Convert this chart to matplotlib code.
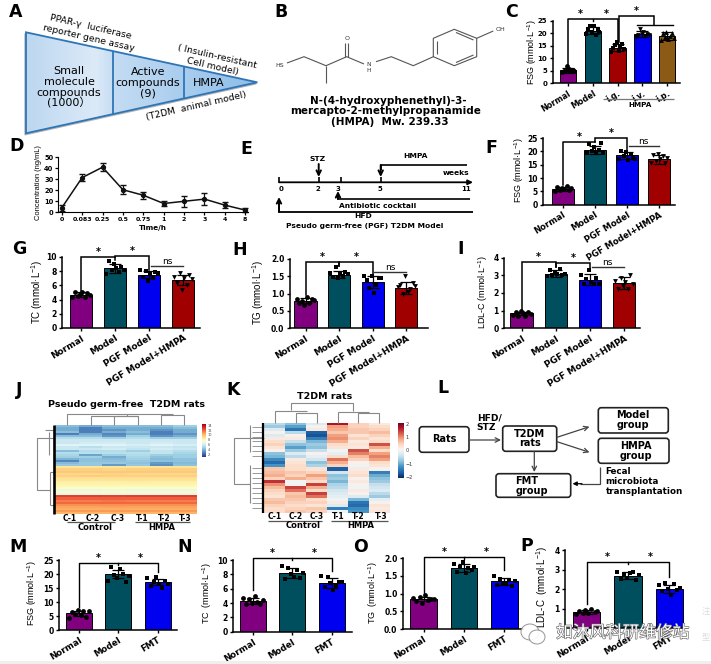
import numpy as np
import matplotlib
matplotlib.use('Agg')
import matplotlib.pyplot as plt
import matplotlib.patheffects as pe
from matplotlib.colors import LinearSegmentedColormap
from matplotlib.patches import Polygon, FancyBboxPatch, Ellipse, Rectangle

W, H = 711, 664
plt.rcParams['font.family'] = ['DejaVu Sans']
plt.rcParams['mathtext.default'] = 'regular'

PURPLE = '#800080'
TEAL = '#004f5f'
RED = '#a00000'
BLUE = '#0000f0'
BROWN = '#8b5a14'

four = ['Normal', 'Model', 'PGF Model', 'PGF Model+HMPA']
three = ['Normal', 'Model', 'FMT']

# bar panels
c_names = ['Normal', 'Model', 'i.g.', 'i.v.', 'i.p.']
c_means = [5.2, 21.0, 14.2, 19.5, 18.8]
c_sd = [0.9, 1.3, 1.5, 1.2, 1.5]
c_pts = [[4.6, 5.0, 5.4, 6.9, 5.6, 4.9, 5.2, 5.0],
         [19.6, 21.5, 22.8, 20.4, 23.0, 19.2, 21.8, 20.6],
         [12.6, 14.0, 15.2, 16.5, 13.0, 14.4, 15.6, 13.6],
         [18.6, 19.2, 21.6, 19.8, 20.4, 18.9, 19.5, 19.4],
         [17.4, 20.2, 18.5, 20.6, 17.6, 19.0, 20.0, 18.2]]

f_means = [6.0, 20.4, 18.5, 17.0]
f_sd = [0.8, 1.5, 1.3, 1.6]
f_pts = [[5.2, 6.8, 5.6, 6.4, 5.8, 6.9, 5.4, 6.2],
         [19.2, 22.8, 20.0, 21.8, 19.6, 20.4, 23.2, 19.4],
         [17.0, 20.0, 18.2, 19.6, 16.8, 19.0, 18.0, 17.2],
         [15.6, 18.8, 16.4, 19.0, 17.0, 18.2, 15.8, 17.6]]

g_means = [4.7, 8.4, 7.5, 6.8]
g_sd = [0.3, 0.6, 0.5, 0.7]
g_pts = [[4.4, 5.0, 4.5, 4.8, 5.1, 4.4, 4.9, 4.6],
         [7.6, 9.4, 8.1, 9.0, 8.4, 7.9, 8.6, 8.2],
         [8.1, 7.2, 8.0, 6.6, 7.6, 7.0, 7.9, 7.7],
         [7.2, 6.4, 7.8, 5.4, 7.0, 6.0, 7.4, 6.9]]

h_means = [0.80, 1.55, 1.33, 1.17]
h_sd = [0.08, 0.10, 0.17, 0.17]
h_pts = [[0.86, 0.72, 0.80, 0.68, 0.90, 0.74, 0.86, 0.82],
         [1.60, 1.48, 1.76, 1.44, 1.56, 1.50, 1.62, 1.58],
         [1.52, 1.40, 1.16, 1.50, 1.02, 1.26, 1.44, 1.46],
         [1.20, 1.26, 0.98, 1.50, 1.04, 1.14, 1.30, 1.22]]

i_means = [0.85, 3.10, 2.75, 2.55]
i_sd = [0.10, 0.20, 0.30, 0.35]
i_pts = [[0.78, 0.92, 0.72, 1.00, 0.84, 0.70, 0.90, 0.82],
         [2.95, 3.30, 3.00, 3.15, 3.05, 3.35, 3.00, 3.10],
         [3.00, 2.50, 2.80, 3.30, 2.60, 2.50, 2.85, 2.50],
         [2.70, 2.25, 2.85, 2.40, 2.60, 2.25, 3.00, 2.50]]

m_means = [5.9, 20.0, 17.1]
m_sd = [1.0, 1.6, 1.2]
m_pts = [[4.4, 6.6, 5.6, 7.3, 5.2, 6.8, 4.8, 6.7],
         [17.4, 22.6, 19.6, 18.4, 21.8, 20.0, 17.0, 19.2],
         [18.4, 15.8, 17.2, 18.8, 16.4, 15.0, 17.6, 16.6]]

n_means = [4.3, 8.2, 6.8]
n_sd = [0.4, 0.7, 0.7]
n_pts = [[4.7, 3.8, 4.5, 4.0, 5.0, 4.2, 3.9, 4.4],
         [9.1, 7.4, 8.9, 8.0, 7.6, 8.6, 7.5, 8.2],
         [7.7, 6.2, 7.6, 6.8, 5.8, 6.4, 7.0, 6.9]]

o_means = [0.85, 1.72, 1.35]
o_sd = [0.07, 0.12, 0.10]
o_pts = [[0.88, 0.78, 0.92, 0.74, 0.95, 0.82, 0.84, 0.86],
         [1.84, 1.62, 1.76, 1.88, 1.58, 1.72, 1.66, 1.74],
         [1.50, 1.24, 1.42, 1.30, 1.28, 1.38, 1.22, 1.36]]

p_means = [0.82, 2.68, 2.00]
p_sd = [0.10, 0.18, 0.22]
p_pts = [[0.72, 0.88, 0.80, 0.94, 0.78, 1.00, 0.82, 0.86],
         [2.85, 2.50, 2.75, 2.55, 2.80, 2.90, 2.48, 2.70],
         [2.20, 1.90, 2.30, 2.00, 1.70, 2.25, 1.95, 2.05]]

# pharmacokinetics
d_times = ['0', '0.083', '0.25', '0.5', '0.75', '1', '2', '3', '4', '8']
d_conc = [4, 31.5, 41, 20.5, 15.5, 8, 10, 12, 6.5, 2]
d_err = [2.5, 3.5, 3.5, 4, 3, 2, 5, 5.5, 3, 2]

# heatmaps
samples = ['C-1', 'C-2', 'C-3', 'T-1', 'T-2', 'T-3']
j_cells = [
    [4.5, 4.0, 4.5, 4.5, 4.5, 5.0], [4.0, 3.0, 4.0, 4.0, 4.0, 4.5],
    [4.0, 3.0, 3.5, 4.0, 3.5, 4.0], [4.5, 3.0, 4.0, 4.5, 3.0, 4.0],
    [3.0, 4.0, 3.2, 4.0, 3.0, 3.5], [4.5, 4.5, 3.5, 5.0, 3.5, 4.0],
    [5.5, 5.5, 5.0, 5.5, 5.0, 5.0], [6.0, 6.0, 6.0, 6.0, 6.0, 6.0],
    [6.0, 6.2, 6.2, 6.0, 6.2, 6.0], [6.5, 6.5, 6.5, 6.3, 6.5, 6.3],
    [6.0, 5.6, 6.0, 6.0, 6.0, 5.8], [6.0, 6.0, 6.2, 5.8, 6.2, 6.0],
    [4.5, 5.5, 5.5, 5.0, 5.8, 5.5], [5.5, 5.6, 5.6, 5.6, 5.8, 5.2],
    [5.2, 3.8, 5.0, 5.4, 5.0, 5.0], [5.0, 5.0, 4.0, 5.2, 4.6, 5.0],
    [4.2, 4.6, 4.4, 5.0, 4.4, 4.6], [3.2, 4.6, 4.6, 4.8, 4.6, 4.6],
    [4.4, 4.8, 4.8, 4.6, 3.6, 4.4], [4.8, 4.8, 3.6, 4.8, 3.4, 4.6],
    [8.8, 8.8, 8.8, 8.8, 8.8, 8.8], [9.4, 9.4, 9.3, 9.4, 9.4, 9.4],
    [9.6, 9.6, 9.6, 9.6, 9.6, 9.6], [9.2, 9.2, 9.3, 9.2, 9.2, 9.2],
    [9.4, 9.5, 9.4, 9.4, 9.4, 9.4], [9.0, 9.0, 9.0, 9.0, 9.0, 9.0],
    [8.8, 8.8, 8.8, 8.8, 8.8, 8.8], [8.4, 8.4, 8.4, 8.5, 8.4, 8.4],
    [8.2, 8.2, 8.2, 8.2, 8.2, 8.2], [8.0, 8.0, 8.0, 8.0, 8.0, 8.0],
    [7.6, 7.6, 7.6, 7.6, 7.6, 7.6], [7.0, 7.0, 7.2, 7.0, 7.0, 7.0],
    [7.4, 7.4, 7.4, 7.4, 7.4, 7.4], [7.0, 7.0, 7.0, 7.0, 7.0, 7.0],
    [12.4, 12.4, 12.3, 12.4, 12.4, 12.4], [11.8, 11.8, 11.8, 11.8, 11.8, 11.8],
    [11.2, 11.2, 11.3, 11.2, 11.2, 11.2], [11.6, 11.6, 11.6, 11.6, 11.6, 11.6],
    [10.8, 10.8, 10.8, 10.8, 10.8, 10.8], [10.4, 10.4, 10.5, 10.4, 10.4, 10.4],
    [10.2, 10.2, 10.2, 10.2, 10.2, 10.2], [10.6, 10.6, 10.6, 10.6, 10.6, 10.6],
    [10.0, 10.0, 10.0, 10.0, 10.0, 10.0],
]
k_cells = [
    [-0.6, -0.9, -0.3, 1.8, 0.5, 0.2], [-0.8, -1.2, 0.1, 0.9, 0.5, 0.4],
    [-0.3, -1.6, 0.2, 0.8, 0.6, 0.5], [0.1, -0.6, -1.8, 0.6, 0.6, 0.7],
    [-0.3, 0.1, -1.9, 0.9, 0.3, 0.5], [0.2, 0.2, -1.5, 1.0, 0.5, 0.3],
    [0.4, -0.5, -1.0, 0.8, 0.2, 0.4], [0.5, -0.9, -0.8, 0.4, 0.3, 1.4],
    [0.3, -1.2, -0.9, 0.3, 0.2, 0.8], [0.1, -0.8, -0.5, -0.1, 1.4, 0.4],
    [-0.9, -0.3, 0.1, -0.2, 1.1, 0.9], [-1.0, -0.6, -0.2, 0.4, 0.7, 1.1],
    [-1.4, 0.2, -0.4, 1.2, 0.5, 0.9], [-1.7, 0.3, -0.9, 0.8, 0.1, 0.4],
    [-1.3, 0.4, -0.7, 0.5, -0.1, 0.3], [0.6, 0.4, 0.3, -1.8, 0.2, 0.1],
    [0.7, 0.6, 0.5, -0.4, 0.3, -1.5], [0.8, 0.5, 0.9, -0.9, 0.4, -1.1],
    [0.5, 0.8, 0.6, -0.8, 0.1, -0.9], [1.6, -0.1, 0.4, -1.0, 0.2, -0.8],
    [1.0, 0.1, 1.5, -0.7, 0.1, -0.5], [0.7, 1.5, 0.8, -0.6, -0.1, -0.4],
    [0.5, 1.2, 0.4, -0.4, 0.2, -0.3], [0.4, 0.6, 1.5, -0.3, 0.1, -0.6],
    [0.3, 0.7, 1.2, -0.2, -0.3, -0.8], [0.6, 0.6, 0.4, -0.1, -1.0, -0.2],
    [0.7, 0.5, 0.5, 0.2, -1.6, 0.1], [0.5, 0.4, 0.3, -0.3, -1.7, 0.3],
    [0.4, 0.5, 0.6, -1.5, -1.4, 0.2], [0.4, 0.6, 0.5, -0.1, -1.3, 0.3],
]

fig = plt.figure(figsize=(W / 100, H / 100), dpi=100)
fig.patch.set_facecolor('white')


def pix_axes(l, r, top, base):
    return fig.add_axes([l / W, 1 - base / H, (r - l) / W, (base - top) / H])


ov = fig.add_axes([0, 0, 1, 1], zorder=5)
ov.patch.set_alpha(0)
ov.axis('off')


def txt(x, y, s, size=6.5, bold=True, rot=0, color='black', ha='center', **kw):
    return ov.text(x, y, s, fontsize=size, fontweight='bold' if bold else 'normal',
                   rotation=rot, color=color, ha=ha, va='center',
                   rotation_mode='anchor', **kw)


def seg(xs, ys, color='black', lw=1.0, **kw):
    ov.plot(xs, ys, color=color, lw=lw, solid_capstyle='butt', solid_joinstyle='miter', **kw)


def arrow(x0, y0, x1, y1, color='black', lw=1.2, style='->', ms=8):
    ov.annotate('', xy=(x1, y1), xytext=(x0, y0),
                arrowprops=dict(arrowstyle=style, color=color, lw=lw, mutation_scale=ms,
                                shrinkA=0, shrinkB=0))


def star(ax, x, y):
    ax.text(x, y, '*', ha='center', va='bottom', fontsize=7, fontweight='bold', clip_on=False, zorder=6)


def sig(ax, x0, x1, y0, ytop, y1, lw=1.1):
    ax.plot([x0, x0, x1, x1], [y0, ytop, ytop, y1], color='black', lw=lw, clip_on=False,
            solid_joinstyle='miter', zorder=6)
    star(ax, (x0 + x1) / 2, ytop)


def ns(ax, x0, x1, y):
    ax.plot([x0, x1], [y, y], color='#333333', lw=1.0, clip_on=False, zorder=6)
    ax.text((x0 + x1) / 2, y, 'ns', ha='center', va='bottom', fontsize=6.5, clip_on=False, zorder=6)


offsets = [-0.26, -0.18, -0.10, -0.03, 0.04, 0.11, 0.19, 0.26]
markers = ['o', 's', 's', 'v', '^']


def bars(rect, c0, step, ymax, yticks, names, means, sd, pts, colors, ylab, ylab_pos,
         xsize=6.5, ysize=5.5, labsize=7):
    l, r, top, base = rect
    ax = pix_axes(l, r, top, base)
    x = np.arange(len(names))
    ax.bar(x, means, width=0.66, color=colors, edgecolor='black', linewidth=0.7, zorder=2)
    ax.errorbar(x, means, yerr=sd, fmt='none', ecolor='black', elinewidth=0.9, capsize=4,
                capthick=0.9, zorder=3)
    for i, vals in enumerate(pts):
        ax.scatter(np.array(offsets) + i, vals, s=12, color='black', marker=markers[i], zorder=4,
                   linewidths=0, clip_on=False)
    ax.set_xlim((l - c0) / step, (r - c0) / step)
    ax.set_ylim(0, ymax)
    ax.set_yticks(yticks)
    ax.set_xticks(x)
    ax.set_xticklabels(names, rotation=31, ha='right', rotation_mode='anchor',
                       fontsize=xsize, fontweight='bold')
    for t in ax.get_yticklabels():
        t.set_fontsize(ysize)
        t.set_fontweight('bold')
    ax.tick_params(length=2.5, width=1, pad=1.5)
    ax.spines['top'].set_visible(False)
    ax.spines['right'].set_visible(False)
    ax.spines['left'].set_linewidth(1.1)
    ax.spines['bottom'].set_linewidth(1.1)
    ax.patch.set_alpha(0)
    txt(ylab_pos[0], ylab_pos[1], ylab, size=labsize, bold=False, rot=90, family='Liberation Sans')
    return ax


# C
ax = bars((552.7, 680, 20.7, 83.3), 568, 24.8, 25, [0, 5, 10, 15, 20, 25], c_names, c_means, c_sd,
          c_pts, [PURPLE, TEAL, RED, BLUE, BROWN], 'FSG (mmol·L$^{-1}$)', (532, 52),
          xsize=5.8, ysize=5, labsize=6.5)
ax.plot([0, 0, 2, 2], [6.0, 25.5, 25.5, 16.6], color='black', lw=1.1, clip_on=False, zorder=6)
ax.plot([1, 1], [25.5, 24.7], color='black', lw=1.0, clip_on=False)
star(ax, 0.5, 25.5)
star(ax, 1.54, 25.5)
sig(ax, 2.05, 3.45, 16.6, 26.8, 23.3)
ax.plot([2.8, 4.25], [23.3, 23.3], color='black', lw=1.0, clip_on=False)
seg([603, 674], [99.3, 99.3], color='#777777', lw=0.9)
txt(639.7, 104.7, 'HMPA', size=5.2)

# F
ax = bars((543, 675, 138, 204.7), 563, 32, 25, [0, 5, 10, 15, 20, 25], four, f_means, f_sd, f_pts,
          [PURPLE, TEAL, BLUE, RED], 'FSG (mmol·L$^{-1}$)', (519, 170), xsize=6.1, labsize=6.5)
ax.plot([0, 0, 1], [7.4, 23.6, 23.6], color='black', lw=1.1, clip_on=False, zorder=6)
star(ax, 0.5, 23.6)
sig(ax, 1, 2, 23.6, 25.0, 20.6)
ns(ax, 2.05, 3, 21.9)

# G
ax = bars((62, 200, 257, 328), 81, 34, 10, [0, 2, 4, 6, 8, 10], four, g_means, g_sd, g_pts,
          [PURPLE, TEAL, BLUE, RED], 'TC (mmol·L$^{-1}$)', (37, 292))
sig(ax, 0, 1, 5.2, 10.0, 9.6)
sig(ax, 1, 2, 10.0, 10.2, 8.2)
ns(ax, 2.05, 3, 8.8)

# H
ax = bars((290, 428, 259, 328.3), 305.5, 33.6, 2.0, [0, 0.5, 1.0, 1.5, 2.0], four, h_means, h_sd,
          h_pts, [PURPLE, TEAL, BLUE, RED], 'TG (mmol·L$^{-1}$)', (258, 293))
sig(ax, 0, 1, 0.96, 1.92, 1.8)
sig(ax, 1, 2, 1.8, 1.9, 1.56)
ns(ax, 2.05, 3, 1.63)

# I
ax = bars((504, 640, 257.7, 328.3), 521.7, 34.1, 4, [0, 1, 2, 3, 4], four, i_means, i_sd, i_pts,
          [PURPLE, TEAL, BLUE, RED], 'LDL-C (mmol·L$^{-1}$)', (483, 292), labsize=6.5)
sig(ax, 0, 1, 1.04, 3.77, 3.5)
sig(ax, 1, 2, 3.5, 3.7, 3.4)
ns(ax, 2.05, 3, 3.45)

# M N O P
fmt_colors = [PURPLE, TEAL, BLUE]
for rect, c0, step, ymax, yt, means, sd, pts, lab, pos, left, ytop, right, ls in [
    ((59, 177, 560, 630), 79, 39.3, 25, [0, 5, 10, 15, 20, 25], m_means, m_sd, m_pts,
     'FSG (mmol·L$^{-1}$)', (32, 593), 8.3, 24.0, 20.8, 6.5),
    ((233, 352, 560, 631.7), 253, 39.3, 10, [0, 2, 4, 6, 8, 10], n_means, n_sd, n_pts,
     'TC  (mmol·L$^{-1}$)', (207, 593), 5.8, 10.3, 8.4, 6.5),
    ((403, 523, 558, 629.3), 423.7, 40.3, 2.0, [0, 0.5, 1.0, 1.5, 2.0], o_means, o_sd, o_pts,
     'TG  (mmol·L$^{-1}$)', (373, 593), 1.0, 2.04, 1.66, 6.5),
    ((565, 687, 550, 628.2), 586.7, 41.3, 4, [1, 2, 3, 4], p_means, p_sd, p_pts,
     'LDL-C  (mmol·L$^{-1}$)', (542, 587), 1.24, 3.39, 2.64, 7),
]:
    ax = bars(rect, c0, step, ymax, yt, three, means, sd, pts, fmt_colors, lab, pos, xsize=6.3, labsize=ls)
    ax.plot([0, 0, 2, 2], [left, ytop, ytop, right], color='black', lw=1.0, clip_on=False, zorder=6)
    ax.plot([1, 1], [ytop, ytop - ymax * 0.03], color='black', lw=1.0, clip_on=False, zorder=6)
    star(ax, 0.5, ytop)
    star(ax, 1.55, ytop)

# D
ax = pix_axes(58.3, 248, 157.3, 212.3)
dx = np.arange(len(d_times))
ax.errorbar(dx, d_conc, yerr=d_err, color='#111111', lw=1.1, elinewidth=0.9, capsize=2, marker='o',
            ms=2.8, clip_on=False)
ax.set_xlim((58.3 - 61.7) / 20.4, (248 - 61.7) / 20.4)
ax.set_ylim(0, 50)
ax.set_yticks([0, 10, 20, 30, 40, 50])
ax.set_xticks(dx)
ax.set_xticklabels(d_times, fontsize=4.5, fontweight='bold')
for t in ax.get_yticklabels():
    t.set_fontsize(4.8)
    t.set_fontweight('bold')
ax.tick_params(length=2, width=0.9, pad=1.5)
ax.spines['top'].set_visible(False)
ax.spines['right'].set_visible(False)
ax.patch.set_alpha(0)
txt(38, 183, 'Concentration (ng/mL)', size=5.4, bold=False, rot=90, family='Liberation Sans')
txt(153, 228, 'Time/h', size=5.2)

# heatmaps
ax = pix_axes(55, 196.7, 425, 514)
ax.imshow(np.array(j_cells), cmap='RdYlBu_r', vmin=1.5, vmax=14, aspect='auto', interpolation='nearest')
ax.axis('off')
cb = pix_axes(202, 206, 424, 457)
cb.imshow(np.linspace(1, 0, 64)[:, None], cmap='RdYlBu_r', aspect='auto')
cb.axis('off')
for lab, y in zip(['14', '12', '10', '8', '6', '4', '2'], [426, 430.5, 435, 440, 445, 450, 455]):
    txt(208, y, lab, size=2.5, bold=False, ha='left', color='#444444')

ax = pix_axes(264, 389.7, 422.7, 512.7)
ax.imshow(np.array(k_cells), cmap='RdBu_r', vmin=-2.2, vmax=2.2, aspect='auto', interpolation='nearest')
ax.axis('off')
cb = pix_axes(397.7, 403, 422.7, 478)
cb.imshow(np.linspace(1, 0, 64)[:, None], cmap='RdBu_r', aspect='auto')
cb.axis('off')
for lab, y in zip(['2', '1', '0', '−1', '−2'], [424, 437.3, 450.7, 464.3, 477.7]):
    txt(405.5, y, lab, size=3.5, bold=False, ha='left', color='#333333')

GR = '#888888'
for xs, ys in [([66.7, 66.7, 126.7, 126.7], [425, 414, 414, 416]),
               ([90.7, 90.7, 137.7, 137.7], [425, 415.7, 415.7, 425]),
               ([114, 114, 137.7], [425, 416, 416]),
               ([161, 161, 184.3, 184.3], [425, 415, 415, 425]),
               ([126.7, 173], [414, 414])]:
    seg(xs, ys, color=GR, lw=0.8)
for xs, ys in [([55, 37, 37, 50], [438, 438, 490, 490]), ([50, 50], [472, 505]),
               ([50, 55], [472, 472]), ([50, 55], [505, 505]), ([45, 55], [430, 430]),
               ([49, 49], [432, 455])]:
    seg(xs, ys, color=GR, lw=0.8)
seg([53.5, 53.5], [425, 514], lw=1.9)
for xs, ys in [([275, 275, 306.7], [422.7, 411, 411]), ([296, 296, 317, 317], [422.7, 412.5, 412.5, 422.7]),
               ([337.7, 337.7, 369], [422.7, 411.5, 411.5]), ([358.3, 358.3, 379.3, 379.3], [422.7, 413, 413, 422.7]),
               ([290.7, 290.7, 353.3, 353.3], [410, 403.3, 403.3, 411])]:
    seg(xs, ys, color=GR, lw=0.8)
for xs, ys in [([264, 234.3, 234.3, 250], [438.3, 438.3, 484.3, 484.3]), ([250, 250], [425, 452]),
               ([250, 250], [465, 503])]:
    seg(xs, ys, color=GR, lw=0.8)
for y in [427, 432, 437, 441, 446, 451, 456, 468, 473, 478, 483, 488, 493, 498, 503, 508]:
    seg([252, 262], [y, y], color=GR, lw=0.6)
seg([262.8, 262.8], [422.7, 512.7], lw=1.6)

txt(126.7, 404.3, 'Pseudo germ-free  T2DM rats', size=6.8)
txt(325, 396.7, 'T2DM rats', size=6.8)
for x, s in zip([69.3, 92.7, 118, 141.7, 164, 185], samples):
    txt(x, 518.3, s, size=5.5)
for x, s in zip([275, 295.7, 317, 337.7, 358, 380.7], samples):
    txt(x, 516.7, s, size=5.5)
seg([66.7, 115], [522.3, 522.3], color='#555555', lw=0.9)
seg([135, 190], [522.3, 522.3], color='#555555', lw=0.9)
seg([268, 321.7], [521, 521], color='#555555', lw=0.9)
seg([331, 388], [521, 521], color='#555555', lw=0.9)
txt(95, 527.5, 'Control', size=6)
txt(161.7, 527.5, 'HMPA', size=6)
txt(303, 526, 'Control', size=6)
txt(361, 526, 'HMPA', size=6)

# A
tri = [(26, 32.3), (257.3, 82.3), (26, 133.3)]
ov.add_patch(Polygon([(x - 1, y + 1.5) for x, y in tri], closed=True, color='#b5b5b5', zorder=1))
a_cmap = LinearSegmentedColormap.from_list('a', [(0, '#bcd7f0'), (0.3, '#dceaf8'), (0.38, '#c4dcf3'),
                                                 (0.68, '#a9cdee'), (1, '#8dbde8')])
grad = ov.imshow(np.linspace(0, 1, 200)[None, :], extent=(26, 257.3, 133.3, 32.3), aspect='auto',
                 cmap=a_cmap, zorder=2)
tri_patch = Polygon(tri, closed=True, facecolor='none', edgecolor='#2f75b5', lw=1.3, zorder=3)
ov.add_patch(tri_patch)
grad.set_clip_path(tri_patch)
seg([113, 113], [51, 114], color='#2f75b5', lw=1.3, zorder=3)
seg([184, 184], [67, 98.5], color='#2f75b5', lw=1.3, zorder=3)
for y, s in zip([71, 82, 92.7, 103], ['Small', 'molecule', 'compounds', '(1000）']):
    txt(69, y, s, size=8, bold=False, family=['DejaVu Sans', 'Noto Sans CJK SC'], zorder=4)
for y, s in zip([72, 83, 93.7], ['Active', 'compounds', '(9)']):
    txt(148, y, s, size=8, bold=False, zorder=4)
txt(208.7, 83.3, 'HMPA', size=8, bold=False, zorder=4)
txt(90.7, 27, 'PPAR-γ  luciferase', size=6.7, bold=False, rot=-13)
txt(89, 38, 'reporter gene assay', size=6.7, bold=False, rot=-13)
txt(216.7, 56.7, '( Insulin-resistant', size=6.7, bold=False, rot=-13)
txt(213, 67, 'Cell model)', size=6.7, bold=False, rot=-13)
txt(196.7, 106, '(T2DM  animal model)', size=6.7, bold=False, rot=13)

# B
BOND = '#555555'
seg([287, 304, 326, 346.7, 364], [63, 56.7, 65.7, 56.7, 64], color=BOND, lw=0.8)
seg([326, 326], [65.7, 83], color=BOND, lw=0.8)
seg([345.2, 345.2], [56.7, 43], color=BOND, lw=0.8)
seg([348.2, 348.2], [56.7, 43], color=BOND, lw=0.8)
seg([376, 391.3, 413.3, 433.3], [61.7, 56.7, 65.7, 56.7], color=BOND, lw=0.8)
seg([433.3, 433.3, 454.3, 476.7, 476.7, 454.3, 433.3], [56.7, 38.3, 29.3, 38.3, 56.7, 65.7, 56.7],
    color=BOND, lw=0.8)
seg([436.5, 436.5], [54, 41], color=BOND, lw=0.8)
seg([456, 473.5], [32.5, 40], color=BOND, lw=0.8)
seg([473.5, 456], [55, 62.5], color=BOND, lw=0.8)
seg([476.7, 493.3], [38.3, 31], color=BOND, lw=0.8)
txt(280, 65.7, 'HS', size=4.5, bold=False, color='#333333')
txt(347, 38.3, 'O', size=4.5, bold=False, color='#333333')
txt(368.3, 64.5, 'N', size=4.2, bold=False, color='#333333')
txt(368.3, 71, 'H', size=4.2, bold=False, color='#333333')
txt(500.7, 29.3, 'OH', size=4.5, bold=False, color='#333333')
txt(388, 101, 'N-(4-hydroxyphenethyl)-3-', size=7.5)
txt(386, 111.5, 'mercapto-2-methylpropanamide', size=7.5)
txt(390, 122, '(HMPA)  Mw. 239.33', size=7.5)

# E
arrow(279, 182.3, 473, 182.3, lw=1.3, style='-|>', ms=7)
for x in [279, 318.7, 340.7, 380.7]:
    seg([x, x], [176.5, 182.3], lw=1.2)
for x, s in zip([280.7, 318, 338, 380, 466], ['0', '2', '3', '5', '11']):
    txt(x, 189, s, size=5)
arrow(318.7, 164, 318.7, 177, lw=1.4)
txt(318, 159, 'STZ', size=5.4)
seg([467, 380.7, 380.7], [165, 165, 170], lw=1.2)
arrow(380.7, 165, 380.7, 177, lw=1.4)
txt(415, 156, 'HMPA', size=5.4)
txt(456, 173, 'weeks', size=5.4)
seg([470, 338, 338], [199, 199, 195], lw=1.2)
arrow(338, 199, 338, 191, lw=1.4)
txt(377.7, 205.7, 'Antibiotic cocktail', size=5.4)
seg([473, 279, 279], [211.7, 211.7, 200], lw=1.3)
arrow(279, 211.7, 279, 197, lw=1.4)
txt(363, 216.5, 'HFD', size=5.4)
txt(365, 226, 'Pseudo germ-free (PGF) T2DM Model', size=5.4)

# L
for x0, y0, x1, y1 in [(419.3, 426.7, 469, 452.3), (502.7, 426, 556.7, 451.3), (598.3, 407.7, 668.3, 433),
                       (598.3, 438.3, 669, 463.3), (496, 473.7, 570.7, 497.3)]:
    ov.add_patch(FancyBboxPatch((x0 + 3, y0 + 3), x1 - x0 - 6, y1 - y0 - 6, boxstyle='round,pad=3',
                                facecolor='white', edgecolor='#222222', lw=1.2, zorder=3))
txt(444, 439.5, 'Rats', size=7, zorder=4)
txt(529.7, 434, 'T2DM', size=7, zorder=4)
txt(529.7, 443.5, 'rats', size=7, zorder=4)
txt(633, 415, 'Model', size=7, zorder=4)
txt(633, 425, 'group', size=7, zorder=4)
txt(636, 446, 'HMPA', size=7, zorder=4)
txt(636, 456, 'group', size=7, zorder=4)
txt(527, 481, 'FMT', size=7, zorder=4)
txt(532, 490.5, 'group', size=7, zorder=4)
txt(476.7, 418, 'HFD/', size=6.6, ha='left')
txt(476.7, 427.5, 'STZ', size=6.6, ha='left')
txt(605.7, 471.7, 'Fecal', size=6.3, ha='left')
txt(605.7, 481.3, 'microbiota', size=6.3, ha='left')
txt(605.7, 491, 'transplantation', size=6.3, ha='left')
arrow(469, 440, 501, 440, color='#444444', lw=0.9)
arrow(557, 437.3, 589.5, 426.7, color='#444444', lw=0.9)
arrow(557, 441.7, 589.5, 452.3, color='#444444', lw=0.9)
arrow(534.3, 451.3, 534.3, 472, color='#444444', lw=0.9)
seg([600, 600, 580], [467.3, 483.7, 483.7], color='#444444', lw=0.9)
arrow(582, 483.7, 572.5, 483.7, color='black', lw=0.9, style='-|>', ms=6)

# panel letters
for s, x, y in [('A', 16, 12), ('B', 281, 12), ('C', 512, 12), ('D', 17, 146), ('E', 246, 149),
                ('F', 491, 148), ('G', 19, 249), ('H', 240, 250), ('I', 461, 249), ('J', 19, 390),
                ('K', 233, 390), ('L', 443, 388), ('M', 18, 547), ('N', 185, 547), ('O', 360, 547),
                ('P', 527, 546)]:
    txt(x, y, s, size=12.5)

# page strip and watermark
ov.add_patch(Rectangle((0, 661), W, 3, facecolor='#efefef', edgecolor='none', zorder=6))
for cx, cy, rx, ry in [(530, 632, 9, 8), (537, 637, 8, 7)]:
    ov.add_patch(Ellipse((cx, cy), rx * 2, ry * 2, facecolor='white', edgecolor='#888888', lw=0.7,
                         alpha=0.9, zorder=7))
txt(622.5, 633, '如沐风科研维修站', size=12, bold=False, color='white', zorder=8,
    family=['Noto Sans CJK SC', 'DejaVu Sans'],
    path_effects=[pe.withStroke(linewidth=0.9, foreground='#666666')])
txt(702, 612, '注', size=6, bold=False, color='#dddddd', family=['Noto Sans CJK SC'], ha='left')
txt(702, 637, '型', size=6, bold=False, color='#dddddd', family=['Noto Sans CJK SC'], ha='left')

ov.set_xlim(0, W)
ov.set_ylim(H, 0)

fig.savefig('out.png', dpi=100)
